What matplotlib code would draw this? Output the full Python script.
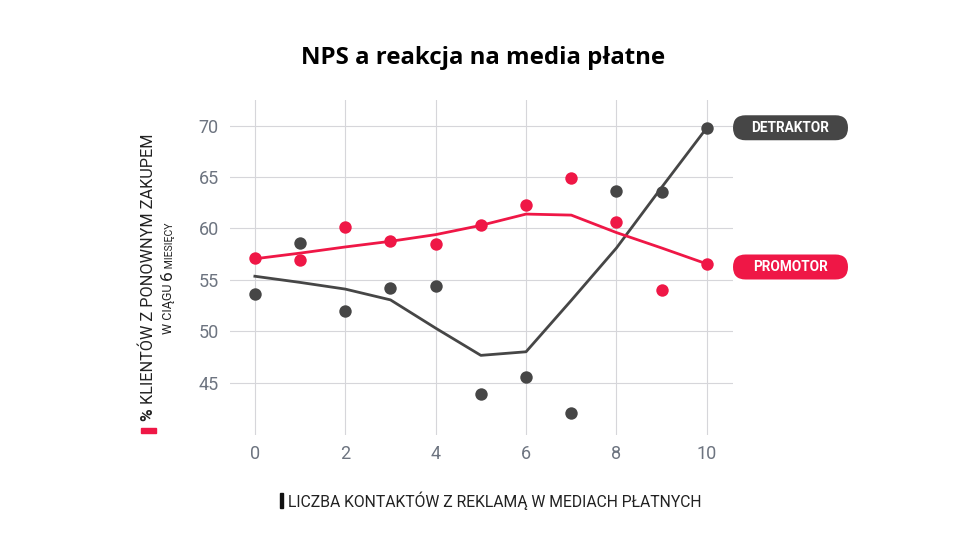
"""
NPS a reakcja na media płatne
"""

import matplotlib
matplotlib.use("Agg")
import matplotlib.pyplot as plt
from matplotlib.patches import FancyBboxPatch, Rectangle

# ── Data ─────────────────────────────────────────────────────────────────────

contacts = [0, 1, 2, 3, 4, 5, 6, 7, 8, 9, 10]

promotor_pts = [57.1, 56.9, 60.15, 58.75, 58.45, 60.3, 62.3, 64.9, 60.6, 54.0, 56.55]
detraktor_pts = [53.6, 58.6, 51.95, 54.2, 54.4, 43.9, 45.5, 42.0, 63.6, 63.55, 69.8]

promotor_trend = [57.05, 57.6, 58.2, 58.75, 59.4, 60.3, 61.4, 61.3, 59.6, 58.1, 56.55]
detraktor_trend = [55.35, 54.75, 54.1, 53.05, 50.3, 47.65, 48.0, 53.0, 58.1, 64.0, 69.8]

x_ticks = [0, 2, 4, 6, 8, 10]
y_ticks = [45, 50, 55, 60, 65, 70]

RED = "#EF1746"
DARK = "#464646"
GRID = "#d6d6da"
TICK = "#6d7480"
TXT = "#222222"

plt.rcParams["font.family"] = ["Roboto", "DejaVu Sans"]

# ── Figure ───────────────────────────────────────────────────────────────────

fig = plt.figure(figsize=(9.6, 5.6), dpi=100)
ax = fig.add_axes([0.2396, 0.2232, 0.5240, 0.5982])

ax.plot(contacts, detraktor_trend, color=DARK, lw=2.0, zorder=3)
ax.plot(contacts, promotor_trend, color=RED, lw=2.0, zorder=3)
ax.scatter(contacts, detraktor_pts, s=80, color=DARK, zorder=4, linewidths=0)
ax.scatter(contacts, promotor_pts, s=80, color=RED, zorder=4, linewidths=0)

ax.set_xlim(-0.55, 10.58)
ax.set_ylim(39.9, 72.5)
ax.set_xticks(x_ticks)
ax.set_yticks(y_ticks)
ax.grid(True, color=GRID, lw=0.8)
ax.set_axisbelow(True)
for s in ax.spines.values():
    s.set_visible(False)
ax.tick_params(length=0, labelsize=13, labelcolor=TICK)
ax.tick_params(axis="y", pad=8)
ax.tick_params(axis="x", pad=7)

fig.canvas.draw()
renderer = fig.canvas.get_renderer()
dpi = fig.dpi

# pill labels at the end of each trend line (drawn in inches, so corners stay round)
for label, yval, col in [("DETRAKTOR", detraktor_trend[-1], DARK),
                         ("PROMOTOR", promotor_trend[-1] - 0.3, RED)]:
    yc = ax.transData.transform((0, yval))[1] / dpi
    x0 = 733 / dpi
    w, h = 115 / dpi, 25 / dpi
    fig.patches.append(FancyBboxPatch((x0, yc - h / 2), w, h,
                                      boxstyle=f"round,pad=0,rounding_size={h/2}",
                                      transform=fig.dpi_scale_trans,
                                      fc=col, ec="none"))
    fig.text(x0 + w / 2, yc, label, transform=fig.dpi_scale_trans,
             ha="center", va="center", color="white", fontsize=9.8,
             fontweight="bold")

# title
fig.text(0.503, 0.896, "NPS a reakcja na media płatne", ha="center",
         va="center", fontsize=17.3, fontweight="bold", color="black",
         family=["Open Sans", "DejaVu Sans"])

# x axis label with bar marker
fig.text(0.300, 0.105, "LICZBA KONTAKTÓW Z REKLAMĄ W MEDIACH PŁATNYCH",
         ha="left", va="center", fontsize=11.3, color=TXT)
fig.patches.append(Rectangle((0.2916, 0.093), 0.0035, 0.027,
                             transform=fig.transFigure, color="#111111"))


def stack_up(x_px, y_px, pieces, ha="center"):
    """Place rotated text pieces one after another, bottom to top."""
    y = y_px
    for txt, size, weight in pieces:
        t = fig.text(x_px / fig.bbox.width, y / fig.bbox.height, txt,
                     rotation=90, ha=ha, va="bottom", fontsize=size,
                     fontweight=weight, color=TXT)
        y = t.get_window_extent(renderer).y1


# y axis label (two lines) with red marker
stack_up(148, 560 - 421, [("%", 12.5, "bold"),
                          (" KLIENTÓW Z PONOWNYM ZAKUPEM", 11.7, "normal")])
stack_up(175, 560 - 334, [("W CIĄGU ", 9.0, "normal"),
                          ("6", 12.5, "normal"),
                          (" MIESIĘCY", 7.6, "normal")], ha="right")
fig.patches.append(Rectangle((0.1468, 0.227), 0.0156, 0.009,
                             transform=fig.transFigure, color=RED))

fig.savefig("out.png", dpi=100)
